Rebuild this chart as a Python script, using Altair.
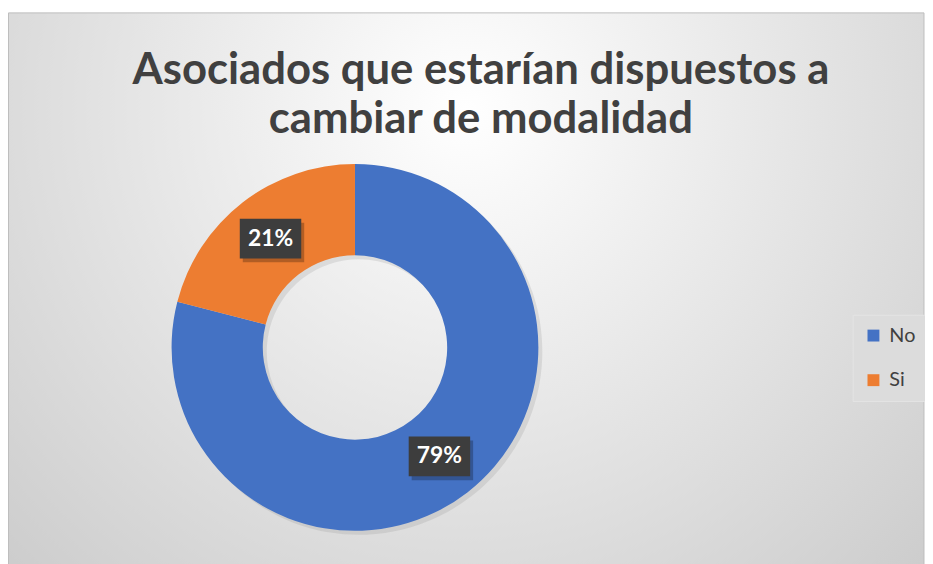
import altair as alt
import pandas as pd

CATEGORIES = ["No", "Si"]
VALUES = [79, 21]
LABELS = ["79%", "21%"]
COLORS = ["#4472C4", "#ED7D31"]
TITLE_LINES = ["Asociados que estarían dispuestos a", "cambiar de modalidad"]

W, H = 925, 556
CX, CY = 350, 340
R_OUT, R_IN = 185, 93
R_LAB = (R_OUT + R_IN) / 2

df = pd.DataFrame({"cat": CATEGORIES, "val": VALUES, "lab": LABELS, "order": list(range(len(CATEGORIES)))})
dummy = pd.DataFrame({"a": [0]})

bg = alt.Chart(dummy).mark_rect(
    fill=alt.RadialGradient(
        gradient="radial",
        stops=[alt.GradientStop(color="#ffffff", offset=0), alt.GradientStop(color="#c6c6c6", offset=1)],
        x1=0.5, y1=0.3, r1=0, x2=0.5, y2=0.3, r2=0.8,
    ),
    stroke="#bdbdbd", strokeWidth=1,
).encode(x=alt.value(0.5), x2=alt.value(W - 1), y=alt.value(2.5), y2=alt.value(H + 10))

title = alt.Chart(dummy).mark_text(
    font="Lato", fontSize=44, fontWeight="bold", color="#404040",
    align="center", baseline="alphabetic", lineHeight=50,
).encode(x=alt.value(477), y=alt.value(74), text=alt.value(TITLE_LINES))

base = alt.Chart(df)

shadow = base.mark_arc(outerRadius=R_OUT, innerRadius=R_IN, color="#808080", opacity=0.18).encode(
    theta=alt.Theta("val:Q", stack=True),
    order=alt.Order("order:Q"),
    x=alt.value(CX + 4), y=alt.value(CY + 4),
)

donut = base.mark_arc(outerRadius=R_OUT, innerRadius=R_IN).encode(
    theta=alt.Theta("val:Q", stack=True),
    order=alt.Order("order:Q"),
    color=alt.Color(
        "cat:N",
        scale=alt.Scale(domain=CATEGORIES, range=COLORS),
        sort=CATEGORIES,
        legend=alt.Legend(
            title=None, orient="none", legendX=852, legendY=307,
            symbolType="square", symbolSize=144, symbolStrokeWidth=0,
            labelFont="Lato", labelFontSize=20, labelColor="#404040", labelOffset=6,
            rowPadding=25, padding=11, fillColor="#dcdcdc", strokeColor="#e4e4e4",
        ),
    ),
    x=alt.value(CX), y=alt.value(CY),
)

pos = base.transform_joinaggregate(total="sum(val)").transform_window(
    cum="sum(val)", sort=[alt.SortField("order")], frame=[None, 0]
).transform_calculate(
    mid="(datum.cum - datum.val/2) / datum.total * 2 * PI",
).transform_calculate(
    bx=f"{CX} + {R_LAB} * sin(datum.mid)",
    by=f"{CY} - {R_LAB} * cos(datum.mid)",
)

BOX = "M-1,-0.645L1,-0.645L1,0.645L-1,0.645Z"
box_shadow = pos.mark_point(shape=BOX, size=3844, filled=True, color="#000000", opacity=0.25, xOffset=3, yOffset=4).encode(
    x=alt.X("bx:Q", scale=None), y=alt.Y("by:Q", scale=None)
)
box = pos.mark_point(shape=BOX, size=3844, filled=True, color="#3d3d3d", opacity=1, strokeWidth=0).encode(
    x=alt.X("bx:Q", scale=None), y=alt.Y("by:Q", scale=None)
)
text = pos.mark_text(font="Lato", fontSize=23, fontWeight="bold", color="#ffffff", align="center", baseline="middle").encode(
    x=alt.X("bx:Q", scale=None), y=alt.Y("by:Q", scale=None), text="lab:N"
)

chart = alt.layer(bg, title, shadow, donut, box_shadow, box, text).properties(
    width=W, height=H, padding=0, autosize=alt.AutoSizeParams(type="none")
).configure_view(stroke=None)

chart.save("out.html", embed_options={"renderer": "svg", "actions": False})
